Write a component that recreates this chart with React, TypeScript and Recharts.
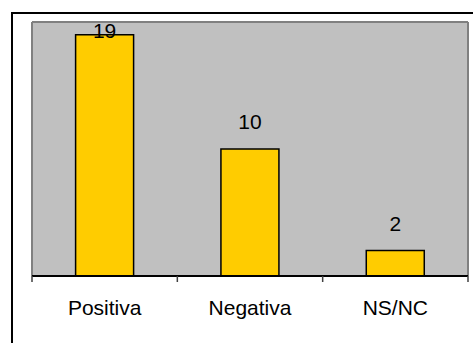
import React from 'react';
import { BarChart, Bar, XAxis, YAxis, CartesianGrid, LabelList } from 'recharts';

const categories = ['Positiva', 'Negativa', 'NS/NC'];
const counts = [19, 10, 2];

const data = categories.map((name, i) => ({ name, value: counts[i] }));

const FONT = '"Liberation Sans", Arial, sans-serif';

const BarValue = (props: any) => {
  const { x, y, width, value } = props;
  // Excel keeps the top label inside the plot box
  const baseline = Math.max(Number(y) - 20, 38);
  return (
    <text x={Number(x) + Number(width) / 2} y={baseline} textAnchor="middle" fontSize={21} fontFamily={FONT} fill="#000">
      {value}
    </text>
  );
};

const CategoryTick = (props: any) => {
  const { x, y, payload, index, visibleTicksCount } = props;
  const axisY = y - 8;
  const half = payload.offset ?? 72.5;
  const isLast = index === visibleTicksCount - 1;
  return (
    <g>
      <line x1={x - half} x2={x - half} y1={axisY} y2={axisY + 6} stroke="#404040" strokeWidth={1.5} />
      {isLast && <line x1={x + half} x2={x + half} y1={axisY} y2={axisY + 6} stroke="#404040" strokeWidth={1.5} />}
      <text x={x} y={axisY + 39} textAnchor="middle" fontSize={21} fontFamily={FONT} fill="#000">
        {payload.value}
      </text>
    </g>
  );
};

export default function App() {
  return (
    <div style={{ position: 'absolute', left: 0, top: 0, width: 473, height: 343, overflow: 'hidden', background: '#fff' }}>
      <div style={{ position: 'absolute', left: 11, top: 12, width: 480, height: 360, border: '2px solid #000', boxSizing: 'border-box' }} />
      <div style={{ position: 'absolute', left: 0, top: 0 }}>
        <BarChart width={473} height={343} data={data} margin={{ top: 22, right: 5, bottom: 37, left: 32 }} barCategoryGap="30%">
          <CartesianGrid
            fill="#C0C0C0"
            stroke="#808080"
            strokeWidth={2}
            horizontalCoordinatesGenerator={({ offset }: any) => [offset.top]}
            verticalCoordinatesGenerator={({ offset }: any) => [offset.left, offset.left + offset.width]}
          />
          <XAxis dataKey="name" height={30} tickLine={false} axisLine={{ stroke: '#000', strokeWidth: 2 }} tick={<CategoryTick />} interval={0} />
          <YAxis hide domain={[0, 20]} />
          <Bar dataKey="value" fill="#FFCC00" stroke="#000" strokeWidth={1.5} isAnimationActive={false}>
            <LabelList dataKey="value" content={<BarValue />} />
          </Bar>
        </BarChart>
      </div>
    </div>
  );
}
